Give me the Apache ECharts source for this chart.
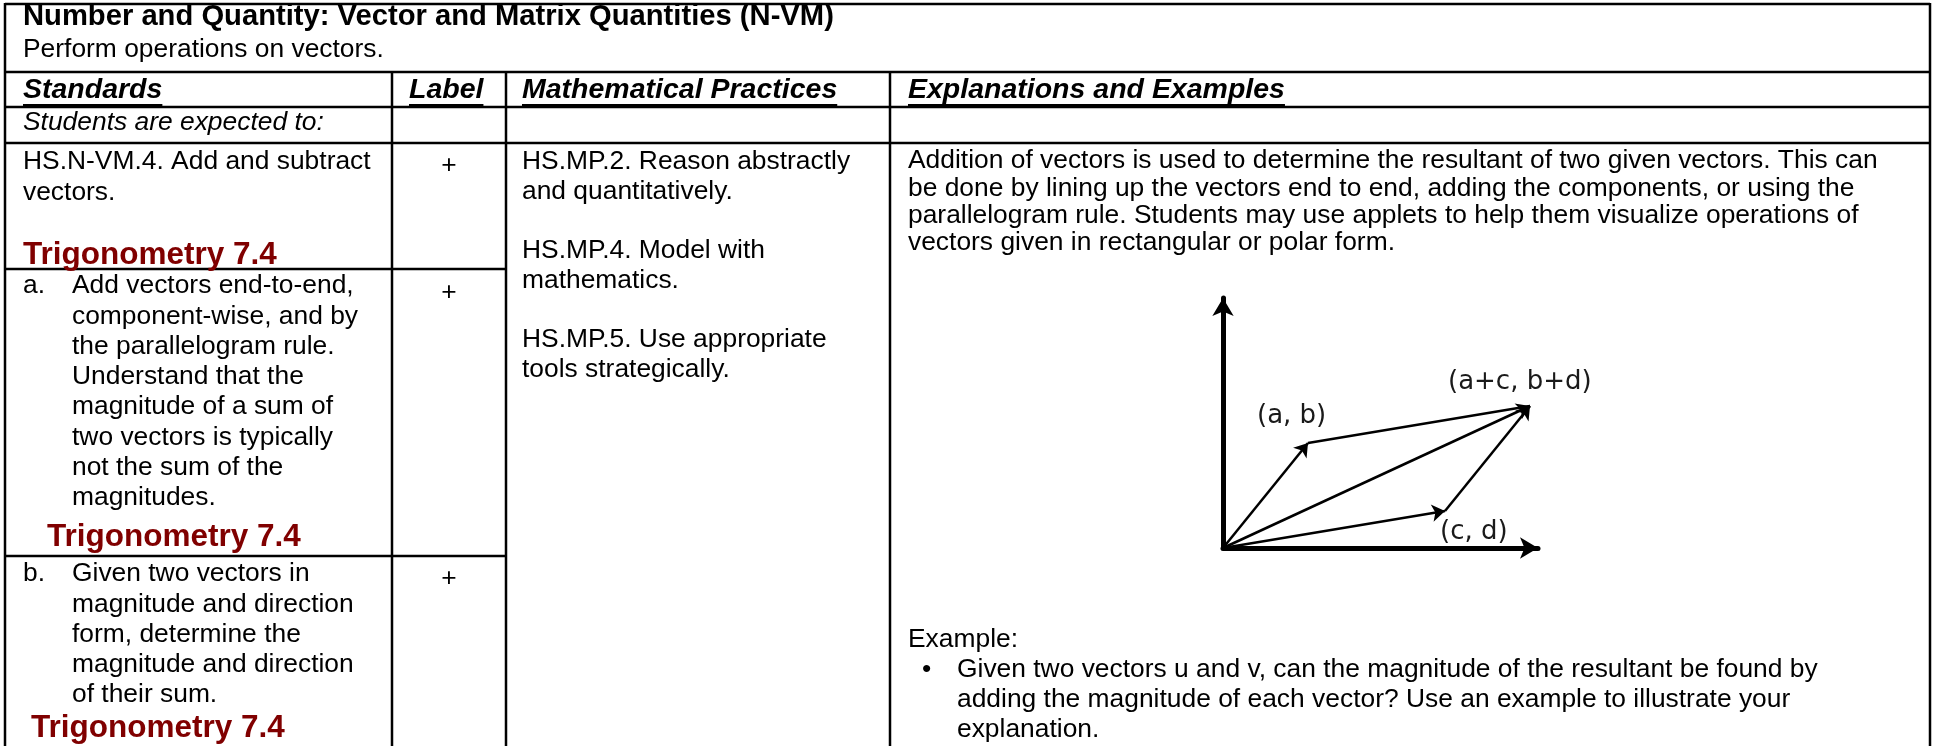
<!DOCTYPE html>
<html>
<head>
<meta charset="utf-8">
<script src="https://cdn.jsdelivr.net/npm/echarts@6/dist/echarts.min.js"></script>
<style>
html, body { margin: 0; padding: 0; background: #fff; }
#main { width: 1934px; height: 746px; }
</style>
</head>
<body>
<div id="main"></div>
<script>
// texts of the table
var titleText = 'Number and Quantity: Vector and Matrix Quantities (N-VM)';
var clusterText = 'Perform operations on vectors.';
var headerTexts = ['Standards', 'Label', 'Mathematical Practices', 'Explanations and Examples'];
var introText = 'Students are expected to:';
var standardLines = ['HS.N-VM.4. Add and subtract', 'vectors.'];
var partMarks = ['a.', 'b.'];
var partALines = ['Add vectors end-to-end,', 'component-wise, and by', 'the parallelogram rule.',
    'Understand that the', 'magnitude of a sum of', 'two vectors is typically',
    'not the sum of the', 'magnitudes.'];
var partBLines = ['Given two vectors in', 'magnitude and direction', 'form, determine the',
    'magnitude and direction', 'of their sum.'];
var bookRef = 'Trigonometry 7.4';
var labelMarks = ['+', '+', '+'];
var practiceLines = ['HS.MP.2. Reason abstractly', 'and quantitatively.', '',
    'HS.MP.4. Model with', 'mathematics.', '',
    'HS.MP.5. Use appropriate', 'tools strategically.'];
var explainLines = ['Addition of vectors is used to determine the resultant of two given vectors. This can',
    'be done by lining up the vectors end to end, adding the components, or using the',
    'parallelogram rule. Students may use applets to help them visualize operations of',
    'vectors given in rectangular or polar form.'];
var exampleHead = 'Example:';
var exampleLines = ['Given two vectors u and v, can the magnitude of the resultant be found by',
    'adding the magnitude of each vector? Use an example to illustrate your',
    'explanation.'];

// vector diagram, in units of the drawn axes
var pointNames = ['(a, b)', '(c, d)', '(a+c, b+d)'];
var pointAB = [85, 105];
var pointCD = [222, 37];
var pointSum = [307, 142];
var axisMax = [315, 250];

var FONT = '"Liberation Sans", Arial, Helvetica, sans-serif';
var BODY = 26.4;
var RED = '#800000';

var chart = echarts.init(document.getElementById('main'));

chart.setOption({
    backgroundColor: '#fff',
    animation: false,
    grid: { left: 1223, top: 298, width: 315, height: 250 },
    xAxis: {
        type: 'value', min: 0, max: axisMax[0],
        axisLine: { show: true, onZero: false, symbol: ['none', 'arrow'], symbolSize: [16, 18],
            lineStyle: { color: '#000', width: 5 } },
        axisTick: { show: false }, axisLabel: { show: false }, splitLine: { show: false }
    },
    yAxis: {
        type: 'value', min: 0, max: axisMax[1],
        axisLine: { show: true, onZero: false, symbol: ['none', 'arrow'], symbolSize: [16, 18],
            lineStyle: { color: '#000', width: 5 } },
        axisTick: { show: false }, axisLabel: { show: false }, splitLine: { show: false }
    },
    series: [
        {
            type: 'lines', coordinateSystem: 'cartesian2d', silent: true,
            symbol: ['none', 'arrow'], symbolSize: 13,
            lineStyle: { color: '#000', width: 2.5, opacity: 1 },
            data: [
                { coords: [[0, 0], pointAB] },
                { coords: [[0, 0], pointCD] },
                { coords: [[0, 0], pointSum] },
                { coords: [pointCD, pointSum] }
            ]
        },
        {
            type: 'lines', coordinateSystem: 'cartesian2d', silent: true,
            symbol: 'none',
            lineStyle: { color: '#000', width: 2.5, opacity: 1 },
            data: [{ coords: [pointAB, pointSum] }]
        }
    ]
});

var els = [];
var ctx = document.createElement('canvas').getContext('2d');

function text(x, y, s, size, extra) {
    var st = { text: s, fontFamily: FONT, fontSize: size, fill: '#000', align: 'left', verticalAlign: 'middle' };
    for (var k in extra) st[k] = extra[k];
    els.push({ type: 'text', x: x, y: y, silent: true, z: 10, style: st });
}
function line(x1, y1, x2, y2, w) {
    els.push({ type: 'line', silent: true, z: 5,
        shape: { x1: x1, y1: y1, x2: x2, y2: y2 },
        style: { stroke: '#000', lineWidth: w || 2.5 } });
}
function width(s, font) {
    ctx.font = font;
    return ctx.measureText(s).width;
}

// table rules
line(5, 4, 1930, 4);
line(5, 3, 5, 746);
line(1930, 3, 1930, 746);
line(5, 72, 1930, 72);
line(5, 107, 1930, 107);
line(5, 143, 1930, 143);
line(5, 269, 506, 269);
line(5, 556, 506, 556);
line(392, 72, 392, 746);
line(506, 72, 506, 746);
line(890, 72, 890, 746);

// heading
text(23, 17, titleText, 29.2, { fontWeight: 'bold' });
text(23, 50, clusterText, BODY);

var headX = [23, 409, 522, 908];
headerTexts.forEach(function (h, i) {
    text(headX[i], 90, h, 28.5, { fontWeight: 'bold', fontStyle: 'italic' });
    var w = width(h, 'italic bold 28.5px ' + FONT);
    line(headX[i], 105, headX[i] + w, 105, 2);
});
text(23, 123, introText, BODY, { fontStyle: 'italic' });

// standards column
var LH = 30.3;
standardLines.forEach(function (s, i) { text(23, 162 + i * LH, s, BODY); });
text(23, 255, bookRef, 31.5, { fontWeight: 'bold', fill: RED });

text(23, 286, partMarks[0], BODY);
partALines.forEach(function (s, i) { text(72, 286 + i * LH, s, BODY); });
text(47, 537, bookRef, 31.5, { fontWeight: 'bold', fill: RED });

text(23, 574, partMarks[1], BODY);
partBLines.forEach(function (s, i) { text(72, 574 + i * LH, s, BODY); });
text(31, 728, bookRef, 31.5, { fontWeight: 'bold', fill: RED });

// label column
var markY = [166, 293, 579];
labelMarks.forEach(function (m, i) { text(449, markY[i], m, BODY, { align: 'center' }); });

// practices column
practiceLines.forEach(function (s, i) { if (s) text(522, 162 + i * 29.7, s, BODY); });

// explanations column
explainLines.forEach(function (s, i) { text(908, 161 + i * 27.3, s, BODY); });
text(908, 640, exampleHead, BODY);
exampleLines.forEach(function (s, i) {
    if (i === 0) text(922, 670, '\u2022', BODY);
    text(957, 670 + i * 30, s, BODY);
});

// labels of the vector diagram
var labelPts = [pointAB, pointCD, pointSum];
var labelOff = [[-51, -27], [-5, 21], [-82, -24]];
labelPts.forEach(function (p, i) {
    var px = chart.convertToPixel({ gridIndex: 0 }, p);
    els.push({ type: 'text', x: px[0] + labelOff[i][0], y: px[1] + labelOff[i][1],
        silent: true, z: 10,
        style: { text: pointNames[i], fontFamily: '"DejaVu Sans", Verdana, sans-serif', fontSize: 26,
            fill: '#1a1a1a', align: 'left', verticalAlign: 'middle' } });
});

chart.setOption({ graphic: { elements: els } });
</script>
</body>
</html>
